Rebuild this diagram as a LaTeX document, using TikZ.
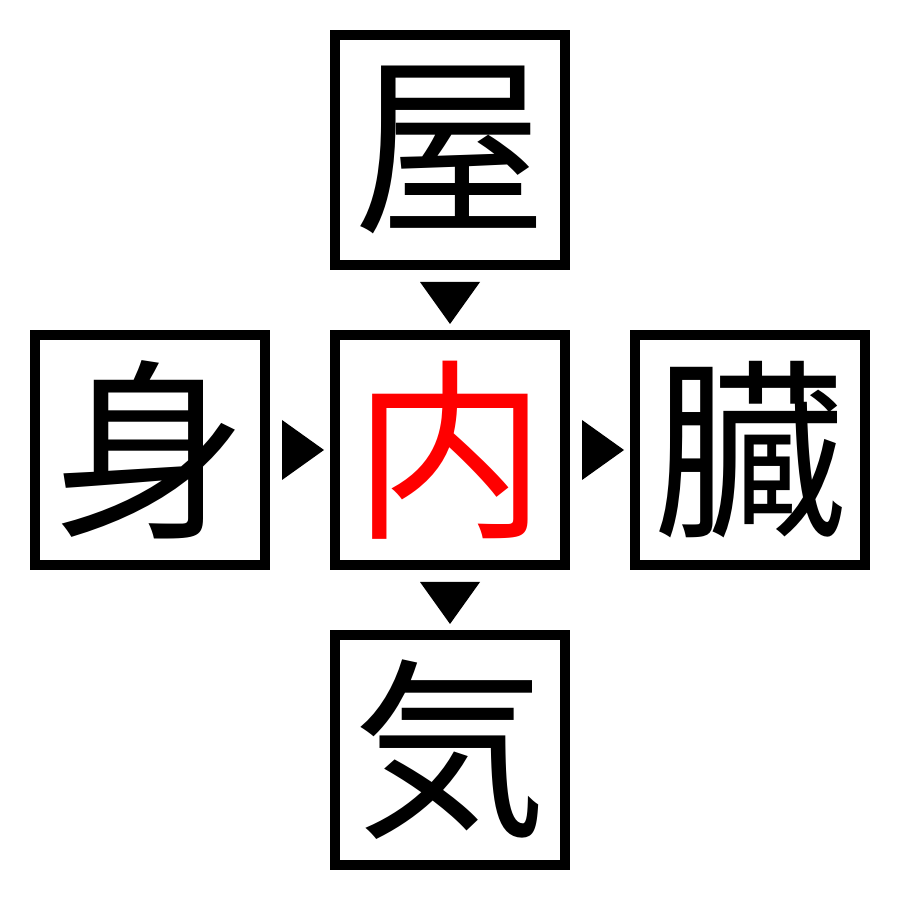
\documentclass[tikz,border=0pt]{standalone}
\usepackage{fontspec}
\newfontfamily\jpfont{Noto Sans CJK JP}
\usetikzlibrary{positioning,calc}
\tikzset{
  cell/.style={draw, line width=0.1cm, minimum size=2.3cm, inner sep=0pt,
    font=\jpfont\fontsize{55}{55}\selectfont},
  pointer/.style={fill=black},
}
\begin{document}
\begin{tikzpicture}
  \useasboundingbox (0,0) rectangle (9,9);
  \draw
    (4.5,7.5) node[cell] (top){屋}
    (1.5,4.5) node[cell] (left){身}
    (4.5,4.5) node[cell, text=red] (mid){内}
    (7.5,4.5) node[cell] (right){臓}
    (4.5,1.5) node[cell] (bot){気};
  % pointers between the cells
  \coordinate (d1) at ($(top.south)!0.5!(mid.north)$);
  \coordinate (d2) at ($(mid.south)!0.5!(bot.north)$);
  \coordinate (r1) at ($(left.east)!0.5!(mid.west)$);
  \coordinate (r2) at ($(mid.east)!0.5!(right.west)$);
  \begin{scope}[pointer]
    \fill (d1) ++(-0.3,0.18) -- ++(0.6,0) -- ++(-0.3,-0.42) -- cycle;
    \fill (d2) ++(-0.3,0.18) -- ++(0.6,0) -- ++(-0.3,-0.42) -- cycle;
    \fill (r1) ++(-0.18,0.3) -- ++(0,-0.6) -- ++(0.42,0.3) -- cycle;
    \fill (r2) ++(-0.18,0.3) -- ++(0,-0.6) -- ++(0.42,0.3) -- cycle;
  \end{scope}
\end{tikzpicture}
\end{document}
